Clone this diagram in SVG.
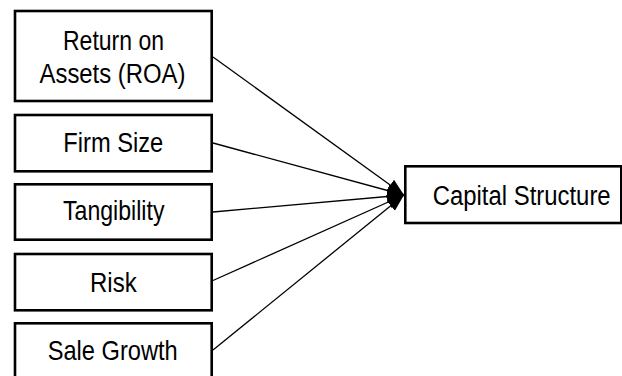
<svg xmlns="http://www.w3.org/2000/svg" width="622" height="376" viewBox="0 0 622 376">
<style>
.box{fill:#fff;stroke:#000;stroke-width:2.6}
.lbl{font-family:"Liberation Sans",Arial,sans-serif;font-size:27px;fill:#000;text-anchor:middle}
.conn{stroke:#000;stroke-width:1.3;fill:none;marker-end:url(#ah)}
</style>
<defs>
<marker id="ah" markerUnits="userSpaceOnUse" markerWidth="18" markerHeight="14" refX="17" refY="6.5" orient="auto">
<path d="M0,0 L17,6.5 L0,13 Z" fill="#000"/>
</marker>
</defs>
<rect width="622" height="376" fill="#fff"/>
<g id="connectors">
<line class="conn" x1="213" y1="57" x2="404" y2="195"/>
<line class="conn" x1="213" y1="143" x2="404" y2="195"/>
<line class="conn" x1="213" y1="212" x2="404" y2="195"/>
<line class="conn" x1="213" y1="280.5" x2="404" y2="195"/>
<line class="conn" x1="213" y1="350" x2="404" y2="195"/>
</g>
<g id="roa">
<rect class="box" x="15" y="11" width="196.7" height="90"/>
<text class="lbl" transform="translate(113.5,50) scale(0.852,1)">Return on</text>
<text class="lbl" transform="translate(112.5,82.5) scale(0.885,1)">Assets (ROA)</text>
</g>
<g id="firmsize">
<rect class="box" x="15" y="115" width="196.7" height="56.3"/>
<text class="lbl" transform="translate(113.3,151.7) scale(0.877,1)">Firm Size</text>
</g>
<g id="tangibility">
<rect class="box" x="15" y="184.3" width="196.7" height="55.4"/>
<text class="lbl" transform="translate(113.7,220) scale(0.856,1)">Tangibility</text>
</g>
<g id="risk">
<rect class="box" x="15" y="254" width="196.7" height="56.3"/>
<text class="lbl" transform="translate(113.3,291.7) scale(0.89,1)">Risk</text>
</g>
<g id="salegrowth">
<rect class="box" x="15" y="323.3" width="196.7" height="56"/>
<text class="lbl" transform="translate(112.7,360) scale(0.875,1)">Sale Growth</text>
</g>
<g id="capital">
<rect class="box" x="405.3" y="166.3" width="216" height="56.7"/>
<text class="lbl" transform="translate(521.7,205) scale(0.885,1)">Capital Structure</text>
</g>
</svg>
